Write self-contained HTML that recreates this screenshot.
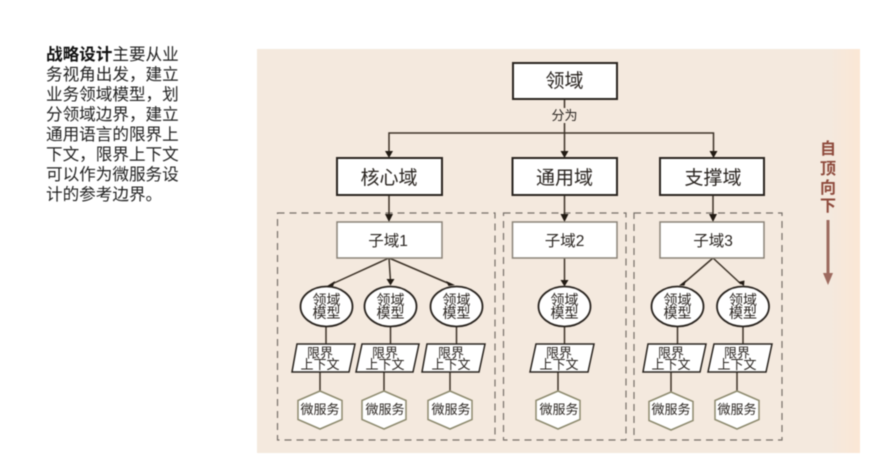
<!DOCTYPE html>
<html lang="zh">
<head>
<meta charset="utf-8">
<title>战略设计</title>
<style>
html,body{margin:0;padding:0;background:#fff;width:889px;height:476px;overflow:hidden}
svg{display:block;filter:blur(.45px)}
text{font-family:"Liberation Sans","Noto Sans CJK SC",sans-serif}
</style>
</head>
<body>
<svg width="889" height="476" viewBox="0 0 889 476" xmlns="http://www.w3.org/2000/svg">
<defs>
<linearGradient id="bg" x1="0" x2="1" y1="0" y2="0">
<stop offset="0" stop-color="#f4e9de"/><stop offset=".95" stop-color="#f4e9de"/><stop offset="1" stop-color="#fbe7d5"/>
</linearGradient>
</defs>
<rect x="257" y="49" width="603" height="404" fill="url(#bg)"/>

<!-- left text -->
<g font-size="16.6" fill="#222">
<text x="46" y="60"><tspan font-weight="700" fill="#111">战略设计</tspan>主要从业</text>
<text x="46" y="80">务视角出发，建立</text>
<text x="46" y="100">业务领域模型，划</text>
<text x="46" y="120">分领域边界，建立</text>
<text x="46" y="140">通用语言的限界上</text>
<text x="46" y="160">下文，限界上下文</text>
<text x="46" y="180">可以作为微服务设</text>
<text x="46" y="200">计的参考边界。</text>
</g>

<!-- dashed regions -->
<g fill="none" stroke="#77706a" stroke-width="1.2" stroke-dasharray="7 5">
<rect x="277.5" y="213" width="217.5" height="227"/>
<rect x="503.5" y="213" width="122.5" height="227"/>
<rect x="634" y="213" width="148" height="227"/>
</g>

<!-- connectors -->
<g fill="none" stroke="#3d3328" stroke-width="1.5">
<path d="M564.5 99V108M564.5 123V152M389 152V133H713.5V152"/>
<path d="M389 195V216M564.5 195V216M713 195V216"/>
<path d="M389 258L332 284M389 258L390.5 281M389 258L450 284"/>
<path d="M564.5 258V282"/>
<path d="M713 258L684 283M713 258L741 284"/>
<path d="M326 327V344M390.5 327V344M456.5 327V344M564.5 327V344M677.5 327V344M743 327V344"/>
<path d="M320 372V391M384 372V391M450 372V391M558 372V391M671 372V392M737 372V391"/>
</g>
<g fill="#221b14">
<path d="M385 151H393L389 158ZM560.500 151H568.500L564.500 158ZM709.500 151H717.500L713.500 158Z"/>
<path d="M385 214H393L389 222ZM560.500 214H568.500L564.500 222ZM709 214H717L713 222Z"/>
<path d="M335 281L327 286L333 286.500ZM386.500 279H394.500L390.500 285.500ZM446 281L455 285L448.500 286ZM560.500 280H568.500L564.500 286.500ZM686 280L679 285.500L684.500 285.500ZM738 282L744 286L744.500 280.500Z"/>
</g>

<!-- top boxes -->
<g fill="#fff" stroke="#29241f" stroke-width="2">
<rect x="513" y="63" width="104" height="36"/>
<rect x="337" y="158" width="105" height="37"/>
<rect x="512.500" y="158" width="104.500" height="37"/>
<rect x="660" y="158" width="104" height="37"/>
</g>
<!-- subdomain boxes -->
<g fill="#fff" stroke="#8a8378" stroke-width="1.5">
<rect x="337" y="222" width="105" height="36"/>
<rect x="512.500" y="222" width="104.500" height="36"/>
<rect x="660" y="222" width="104" height="36"/>
</g>

<!-- ellipses -->
<g fill="#fff" stroke="#29241f" stroke-width="1.8">
<ellipse cx="326.500" cy="306.500" rx="26" ry="20"/>
<ellipse cx="390.500" cy="306.500" rx="26" ry="20"/>
<ellipse cx="456.500" cy="306.500" rx="26" ry="20"/>
<ellipse cx="564.500" cy="306.500" rx="26" ry="20"/>
<ellipse cx="677.500" cy="306.500" rx="26" ry="20"/>
<ellipse cx="743" cy="306.500" rx="26" ry="20"/>
</g>

<!-- parallelograms -->
<g fill="#fff" stroke="#29241f" stroke-width="1.5">
<polygon points="297,344 355,344 349,372 292,372"/>
<polygon points="362,344 419,344 413,372 356,372"/>
<polygon points="427,344 485,344 479,372 422,372"/>
<polygon points="536,344 594,344 588,372 530,372"/>
<polygon points="648,344 706,344 700,372 643,372"/>
<polygon points="714,344 772,344 766,372 708,372"/>
</g>

<!-- hexagons -->
<g fill="#fff" stroke="#8d8a6e" stroke-width="1.5">
<polygon points="320,391 342,400.500 342,419.500 320,429 298,419.500 298,400.500"/>
<polygon points="384,391 406,400.500 406,419.500 384,429 362,419.500 362,400.500"/>
<polygon points="450,391 472,400.500 472,419.500 450,429 428,419.500 428,400.500"/>
<polygon points="558,391 580,400.500 580,419.500 558,429 536,419.500 536,400.500"/>
<polygon points="671,392 693,401.500 693,420.500 671,430 649,420.500 649,401.500"/>
<polygon points="737,391 759,400.500 759,419.500 737,429 715,419.500 715,400.500"/>
</g>

<!-- labels -->
<g text-anchor="middle" fill="#2a2521">
<text x="564.500" y="120" font-size="13">分为</text>
<g font-size="19">
<text x="564.500" y="87">领域</text>
<text x="389" y="184">核心域</text>
<text x="564.500" y="184">通用域</text>
<text x="713" y="184">支撑域</text>
</g>
<g font-size="15.500">
<text x="388" y="246">子域1</text>
<text x="564.500" y="246">子域2</text>
<text x="713" y="246">子域3</text>
</g>
<g font-size="14">
<text x="326.500" y="305">领域</text><text x="326.500" y="318">模型</text>
<text x="390.500" y="305">领域</text><text x="390.500" y="318">模型</text>
<text x="456.500" y="305">领域</text><text x="456.500" y="318">模型</text>
<text x="564.500" y="305">领域</text><text x="564.500" y="318">模型</text>
<text x="677.500" y="305">领域</text><text x="677.500" y="318">模型</text>
<text x="743" y="305">领域</text><text x="743" y="318">模型</text>
</g>
<g font-size="13">
<text x="320" y="357.500">限界</text><text x="320" y="369">上下文</text>
<text x="385" y="357.500">限界</text><text x="385" y="369">上下文</text>
<text x="451" y="357.500">限界</text><text x="451" y="369">上下文</text>
<text x="559" y="357.500">限界</text><text x="559" y="369">上下文</text>
<text x="671" y="357.500">限界</text><text x="671" y="369">上下文</text>
<text x="737" y="357.500">限界</text><text x="737" y="369">上下文</text>
</g>
<g font-size="13">
<text x="320" y="414">微服务</text>
<text x="385" y="414">微服务</text>
<text x="451" y="414">微服务</text>
<text x="559" y="414">微服务</text>
<text x="671" y="414">微服务</text>
<text x="737" y="414">微服务</text>
</g>
</g>

<!-- top-down -->
<g text-anchor="middle" font-size="16" font-weight="700" fill="#8e4a3c">
<text x="828" y="154">自</text>
<text x="828" y="174">顶</text>
<text x="828" y="193">向</text>
<text x="828" y="211">下</text>
</g>
<rect x="826.500" y="220" width="3" height="56" fill="#9d6a5f"/>
<path d="M823 273H833L828 285Z" fill="#9d6a5f"/>
</svg>
</body>
</html>
